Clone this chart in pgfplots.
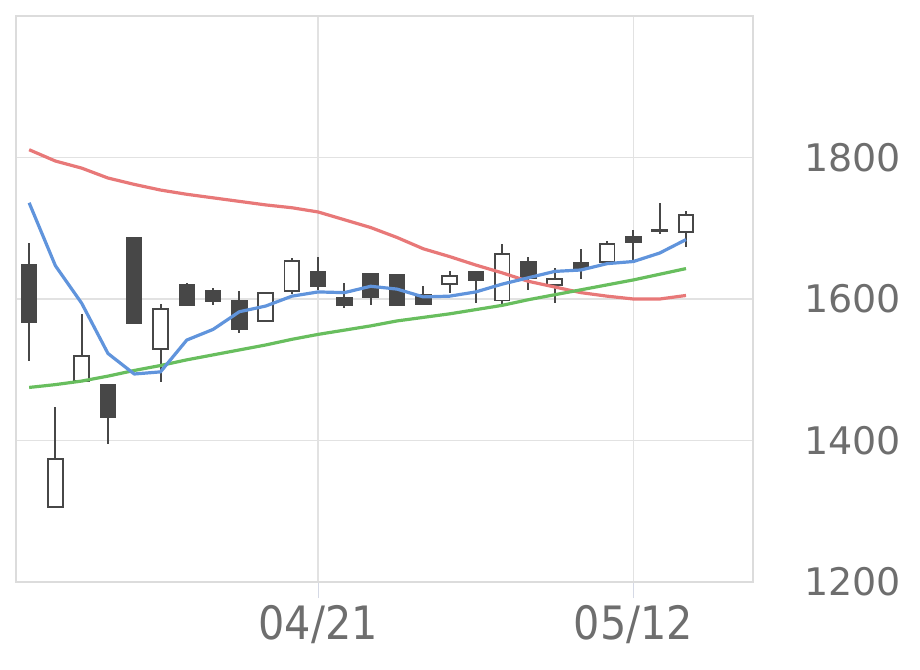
\documentclass[border=0pt]{standalone}
\usepackage{pgfplots}
\usepackage{pgfplotstable}
\pgfplotsset{compat=1.18}
\usepackage{fontspec}
\setmainfont{DejaVu Sans}
\newfontfamily\condfont{DejaVu Sans Condensed}

\definecolor{candle}{HTML}{474747}
\definecolor{gridc}{HTML}{E2E2E2}
\definecolor{framec}{HTML}{DCDCDC}
\definecolor{tickc}{HTML}{D5D9E5}
\definecolor{labelc}{HTML}{6E6E6E}
\definecolor{mared}{HTML}{E87878}
\definecolor{mablue}{HTML}{6094DC}
\definecolor{magreen}{HTML}{68BE5E}

% daily candles: open, high, low, close
\pgfplotstableread{
x o h l c
0 1648 1679 1512 1567
1 1306 1448 1306 1374
2 1484 1579 1482 1520
3 1479 1479 1395 1433
4 1686 1686 1564 1566
5 1529 1593 1483 1586
6 1620 1623 1591 1591
7 1612 1616 1592 1597
8 1598 1612 1552 1557
9 1569 1610 1568 1609
10 1611 1658 1607 1654
11 1638 1660 1613 1618
12 1601 1622 1587 1592
13 1636 1636 1592 1602
14 1634 1634 1590 1592
15 1606 1618 1592 1593
16 1621 1639 1609 1633
17 1639 1639 1595 1627
18 1598 1678 1590 1664
19 1653 1660 1613 1630
20 1620 1644 1595 1628
21 1651 1670 1628 1643
22 1652 1682 1652 1678
23 1688 1698 1654 1680
24 1697 1736 1692 1696
25 1695 1724 1673 1719
}\candles

% moving averages
\pgfplotstableread{
x ma5 ma25 ma75
0 1736 1811 1475
1 1647 1795 1479
2 1594 1785 1484
3 1523 1771 1491
4 1494 1762 1499
5 1497 1754 1506
6 1542 1748 1514
7 1557 1743 1521
8 1582 1738 1528
9 1590 1733 1535
10 1604 1729 1543
11 1610 1723 1550
12 1609 1712 1556
13 1618 1701 1562
14 1614 1687 1569
15 1603 1671 1574
16 1604 1660 1579
17 1610 1648 1585
18 1621 1637 1591
19 1630 1625 1599
20 1639 1617 1606
21 1641 1609 1613
22 1650 1604 1620
23 1653 1600 1627
24 1665 1600 1635
25 1684 1605 1643
}\ma

\begin{document}
\begin{tikzpicture}
\path[use as bounding box] (-8pt,-43.5pt) rectangle (452pt,291pt);
\begin{axis}[
  scale only axis, width=368.5pt, height=283pt,
  xmin=-0.5, xmax=27.55, ymin=1200, ymax=2000,
  xtick={11,23}, xticklabels={04/21,05/12},
  ytick={1200,1400,1600,1800},
  ytick pos=right, yticklabel pos=right,
  xtick pos=bottom,
  grid=major, grid style={draw=gridc, line width=0.8pt},
  axis line style={draw=framec, line width=0.8pt},
  tick align=outside, major tick length=8pt,
  x tick style={draw=tickc, line width=0.6pt},
  y tick style={draw=none},
  xticklabel style={font=\condfont\fontsize{23}{23}\selectfont, text=labelc},
  yticklabel style={font=\fontsize{19}{19}\selectfont, text=labelc, anchor=west, xshift=14pt},
  /pgf/number format/assume math mode=true,
  /pgf/number format/1000 sep={},
]
% wicks
\addplot[draw=none, mark=none, forget plot,
  error bars/.cd, y dir=both, y explicit, error mark=none,
  error bar style={draw=candle, line width=1pt}]
  table[x=x, y expr={(\thisrow{h}+\thisrow{l})/2},
        y error expr={(\thisrow{h}-\thisrow{l})/2}] {\candles};
% bodies
\pgfplotsforeachungrouped \i in {0,...,25}{%
  \pgfplotstablegetelem{\i}{o}\of\candles \let\vo\pgfplotsretval
  \pgfplotstablegetelem{\i}{c}\of\candles \let\vc\pgfplotsretval
  \pgfmathsetmacro\xa{\i-0.28}%
  \pgfmathsetmacro\xb{\i+0.28}%
  \ifdim\vc pt<\vo pt \def\bfill{candle}\else\def\bfill{white}\fi
  \edef\temp{\noexpand\addplot[draw=candle, line width=0.9pt, fill=\bfill, forget plot]
    coordinates {(\xa,\vo) (\xb,\vo) (\xb,\vc) (\xa,\vc)} -- cycle;}%
  \temp
}
% moving averages
\addplot[draw=mared, line width=1.6pt, mark=none, line join=round] table[x=x, y=ma25] {\ma};
\addplot[draw=magreen, line width=1.6pt, mark=none, line join=round] table[x=x, y=ma75] {\ma};
\addplot[draw=mablue, line width=1.6pt, mark=none, line join=round] table[x=x, y=ma5] {\ma};
\end{axis}
\end{tikzpicture}
\end{document}
